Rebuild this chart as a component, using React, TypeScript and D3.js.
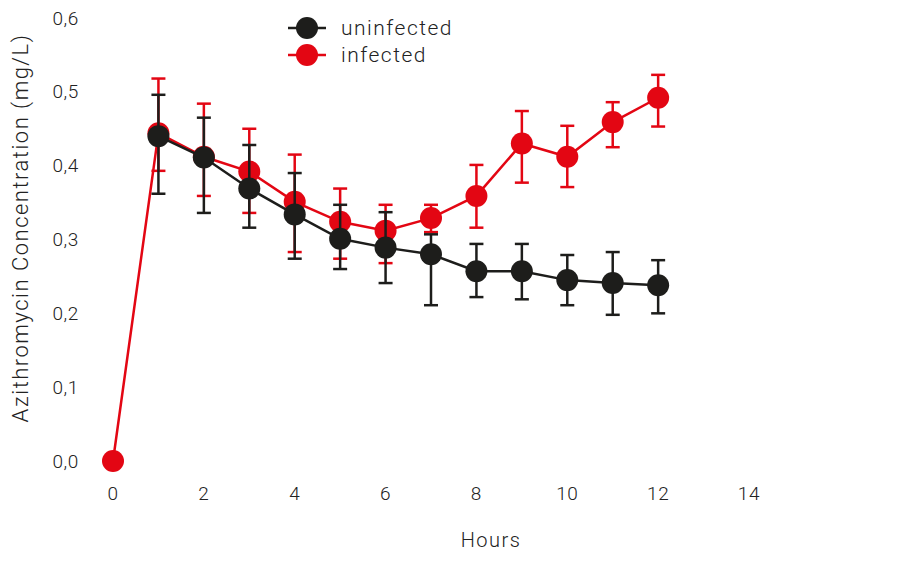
import React from "react";
import * as d3 from "d3";

const hours = [1, 2, 3, 4, 5, 6, 7, 8, 9, 10, 11, 12];
const uninfMean = [0.440, 0.411, 0.369, 0.334, 0.301, 0.289, 0.280, 0.257, 0.257, 0.245, 0.241, 0.238];
const uninfHigh = [0.496, 0.465, 0.428, 0.390, 0.347, 0.337, 0.307, 0.294, 0.294, 0.279, 0.283, 0.272];
const uninfLow = [0.362, 0.336, 0.316, 0.274, 0.260, 0.241, 0.211, 0.222, 0.219, 0.211, 0.198, 0.200];

const infHours = [0, 1, 2, 3, 4, 5, 6, 7, 8, 9, 10, 11, 12];
const infMean = [0.0, 0.444, 0.412, 0.392, 0.351, 0.324, 0.312, 0.329, 0.359, 0.430, 0.412, 0.459, 0.492];
const infHigh = [null, 0.518, 0.484, 0.450, 0.415, 0.369, 0.347, 0.347, 0.401, 0.474, 0.454, 0.486, 0.523];
const infLow = [null, 0.393, 0.359, 0.336, 0.283, 0.274, 0.268, 0.310, 0.316, 0.377, 0.371, 0.425, 0.453];

const xTicks = [0, 2, 4, 6, 8, 10, 12, 14];
const yTicks = [0, 0.1, 0.2, 0.3, 0.4, 0.5, 0.6];
const seriesNames = ["uninfected", "infected"];

const RED = "#e30613";
const BLACK = "#1d1d1b";
const FONT = "Roboto, 'Open Sans', sans-serif";

export default function App() {
  const W = 900, H = 573;
  const x = d3.scaleLinear().domain([0, 14]).range([113, 749]);
  const y = d3.scaleLinear().domain([0, 0.6]).range([461, 18]);
  const line = d3.line<[number, number]>().x(d => x(d[0])).y(d => y(d[1]));
  const fmt = (v: number) => d3.format(".1f")(v).replace(".", ",");

  const series = [
    { name: seriesNames[1], color: RED, xs: infHours, m: infMean, hi: infHigh, lo: infLow },
    { name: seriesNames[0], color: BLACK, xs: hours, m: uninfMean, hi: uninfHigh, lo: uninfLow },
  ];
  const R = 11;
  const cap = 7;

  return (
    <svg width={W} height={H} style={{ position: "absolute", left: 0, top: 0, background: "#fff" }} fontFamily={FONT}>
      {yTicks.map(t => (
        <text key={t} x={79} y={y(t)} dy="0.35em" textAnchor="end" fontSize={19} fontWeight={300} fill="#222" letterSpacing={0.6}>
          {fmt(t)}
        </text>
      ))}
      {xTicks.map(t => (
        <text key={t} x={x(t)} y={493} dy="0.35em" textAnchor="middle" fontSize={19} fontWeight={300} fill="#222" letterSpacing={0.6}>
          {t}
        </text>
      ))}
      <text x={491} y={540} dy="0.35em" textAnchor="middle" fontSize={20} fontWeight={300} fill="#222" letterSpacing={1.5}>Hours</text>
      <text transform={`translate(20,${228}) rotate(-90)`} dy="0.35em" textAnchor="middle" fontSize={22} fontWeight={300} fill="#222" letterSpacing={1.5}>
        Azithromycin Concentration (mg/L)
      </text>

      {series.map(s => (
        <g key={s.name}>
          <path d={line(s.xs.map((h, i) => [h, s.m[i]] as [number, number])) || ""} fill="none" stroke={s.color} strokeWidth={2.5} />
          {s.xs.map((h, i) => {
            const hi = s.hi[i], lo = s.lo[i];
            if (hi == null || lo == null) return null;
            const cx = x(h);
            return (
              <g key={i} stroke={s.color} strokeWidth={2.5}>
                <line x1={cx} x2={cx} y1={y(hi)} y2={y(lo)} />
                <line x1={cx - cap} x2={cx + cap} y1={y(hi)} y2={y(hi)} />
                <line x1={cx - cap} x2={cx + cap} y1={y(lo)} y2={y(lo)} />
              </g>
            );
          })}
          {s.xs.map((h, i) => (
            <circle key={"c" + i} cx={x(h)} cy={y(s.m[i])} r={R} fill={s.color} />
          ))}
        </g>
      ))}

      {[
        { name: seriesNames[0], color: BLACK, cy: 28 },
        { name: seriesNames[1], color: RED, cy: 55 },
      ].map(l => (
        <g key={l.name}>
          <line x1={288} x2={326} y1={l.cy} y2={l.cy} stroke={l.color} strokeWidth={2.5} />
          <circle cx={307} cy={l.cy} r={R} fill={l.color} />
          <text x={341} y={l.cy} dy="0.35em" fontSize={21} fontWeight={300} fill="#222" letterSpacing={1.5}>{l.name}</text>
        </g>
      ))}
    </svg>
  );
}
